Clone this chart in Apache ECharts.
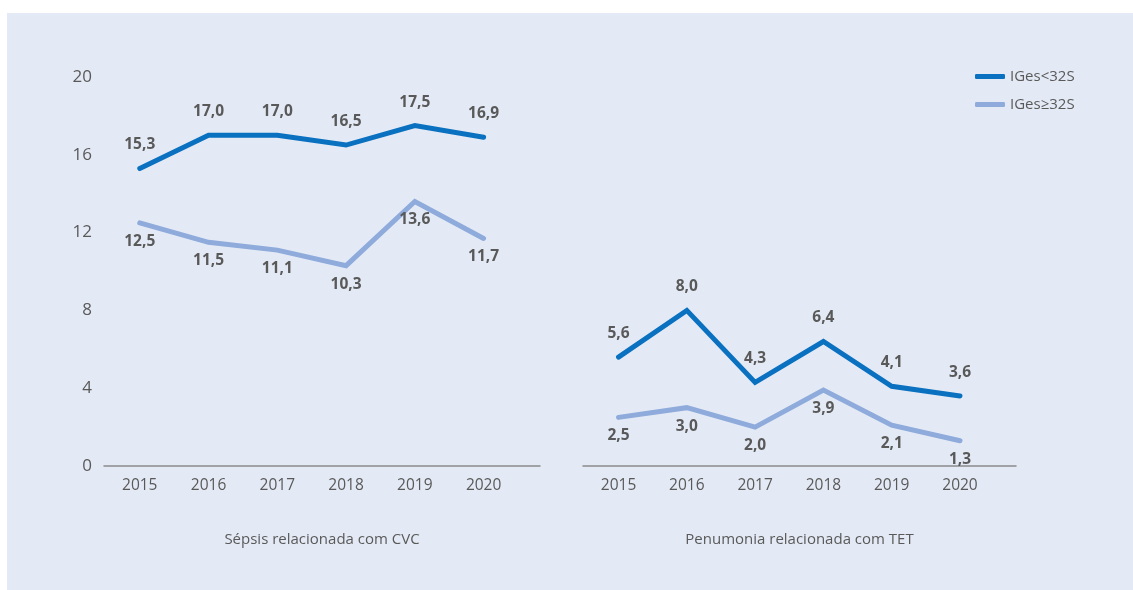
<!DOCTYPE html>
<html>
<head>
<meta charset="utf-8">
<script src="https://cdn.jsdelivr.net/npm/echarts@6/dist/echarts.min.js"></script>
<style>
  html, body { margin: 0; padding: 0; background: #ffffff; }
  #panel { position: absolute; left: 7px; top: 13px; width: 1126px; height: 577px; background: #e4eaf5; }
  #chart { position: absolute; left: 0; top: 0; width: 1133px; height: 590px; }
</style>
</head>
<body>
<div id="panel"></div>
<div id="chart"></div>
<script>
// Years shown on both panels
const years = [2015, 2016, 2017, 2018, 2019, 2020];
const yTicks = [0, 4, 8, 12, 16, 20];

// Incidence by gestational age group
const sepsisUnder32 = [15.3, 17.0, 17.0, 16.5, 17.5, 16.9];
const sepsisOver32 = [12.5, 11.5, 11.1, 10.3, 13.6, 11.7];
const pneuUnder32 = [5.6, 8.0, 4.3, 6.4, 4.1, 3.6];
const pneuOver32 = [2.5, 3.0, 2.0, 3.9, 2.1, 1.3];

const panelTitles = ['Sépsis relacionada com CVC', 'Penumonia relacionada com TET'];
const groupNames = ['IGes<32S', 'IGes≥32S'];

const darkBlue = '#0a70c0';
const lightBlue = '#8eabdc';
const textGray = '#595959';
const font = '"Open Sans", "Noto Sans", sans-serif';

const pairs = vals => vals.map((v, i) => [years[i], v]);
const fmt = p => p.value[1].toFixed(1).replace('.', ',');

function xAxisFor(gridIndex, name) {
  return {
    type: 'value', gridIndex,
    min: 2014.48, max: 2020.82,
    name, nameLocation: 'middle', nameGap: 66,
    nameTextStyle: { fontFamily: font, fontSize: 15, color: textGray },
    axisLine: { show: true, onZero: false, lineStyle: { color: '#8a8a8a', width: 1.5 } },
    axisTick: { show: false },
    splitLine: { show: false },
    axisLabel: {
      customValues: years, fontFamily: font, fontSize: 15.5, color: textGray, margin: 12,
      formatter: v => String(v)
    }
  };
}

function yAxisFor(gridIndex, showLabels) {
  return {
    type: 'value', gridIndex, min: yTicks[0], max: yTicks[yTicks.length - 1], interval: 4,
    axisLine: { show: false }, axisTick: { show: false }, splitLine: { show: false },
    axisLabel: { show: showLabels, fontFamily: font, fontSize: 17, color: textGray, margin: 12 }
  };
}

function lineSeries(name, color, vals, idx, pos) {
  return {
    name, type: 'line', xAxisIndex: idx, yAxisIndex: idx,
    data: pairs(vals), symbol: 'circle', symbolSize: 1, showSymbol: true, smooth: false,
    lineStyle: { color, width: 5, cap: 'round', join: 'miter' },
    itemStyle: { color },
    label: {
      show: true, position: pos, distance: pos === 'top' ? 15 : 10,
      formatter: fmt, fontFamily: font, fontSize: 15.5, fontWeight: 'bold', color: textGray
    },
    emphasis: { disabled: true }
  };
}

const chart = echarts.init(document.getElementById('chart'), null, { renderer: 'canvas' });
chart.setOption({
  animation: false,
  backgroundColor: 'transparent',
  grid: [
    { left: 104, right: 593, top: 77, bottom: 124 },
    { left: 583, right: 117, top: 77, bottom: 124 }
  ],
  xAxis: [xAxisFor(0, panelTitles[0]), xAxisFor(1, panelTitles[1])],
  yAxis: [yAxisFor(0, true), yAxisFor(1, false)],
  legend: {
    orient: 'vertical', left: 970, top: 64,
    icon: 'roundRect', itemWidth: 30, itemHeight: 5, itemGap: 13,
    data: groupNames,
    textStyle: { fontFamily: font, fontSize: 15, color: textGray }
  },
  series: [
    lineSeries(groupNames[0], darkBlue, sepsisUnder32, 0, 'top'),
    lineSeries(groupNames[1], lightBlue, sepsisOver32, 0, 'bottom'),
    lineSeries(groupNames[0], darkBlue, pneuUnder32, 1, 'top'),
    lineSeries(groupNames[1], lightBlue, pneuOver32, 1, 'bottom')
  ]
});
</script>
</body>
</html>
